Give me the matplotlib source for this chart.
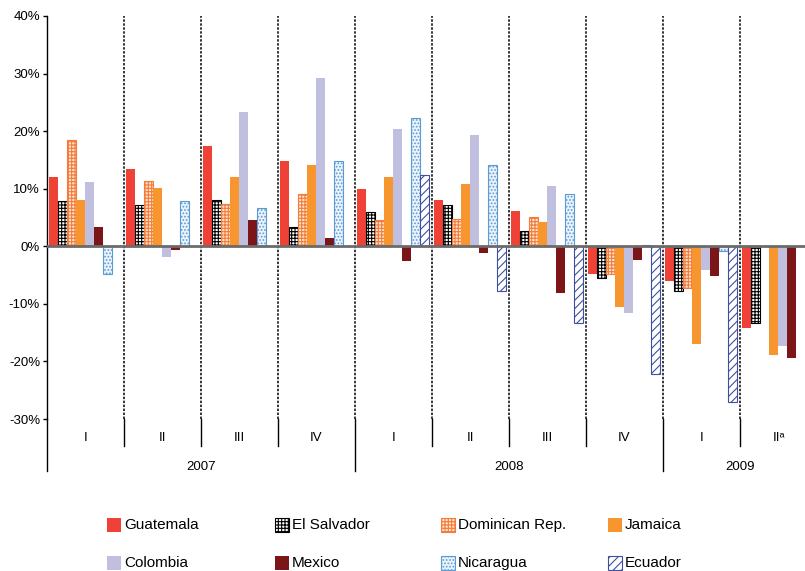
import numpy as np
import matplotlib
matplotlib.use("Agg")
import matplotlib.pyplot as plt
from matplotlib.patches import Rectangle

plt.rcParams['font.family'] = ['Liberation Sans', 'DejaVu Sans']
plt.rcParams['hatch.linewidth'] = 0.8

nan = np.nan
quarters = ['I', 'II', 'III', 'IV', 'I', 'II', 'III', 'IV', 'I', 'II\u1d43']
years = ['2007', '2008', '2009']
year_spans = [(0, 4), (4, 8), (8, 10)]

countries = ['Guatemala', 'El Salvador', 'Dominican Rep.', 'Jamaica',
             'Colombia', 'Mexico', 'Nicaragua', 'Ecuador']

guatemala = [12.0, 13.5, 17.4, 14.9, 9.9, 8.0, 6.2, -4.9, -6.0, -14.2]
el_salvador = [7.9, 7.1, 8.1, 3.3, 6.0, 7.1, 2.6, -5.5, -7.7, -13.3]
dominican = [18.5, 11.3, 7.4, 9.1, 4.6, 4.7, 5.0, -4.8, -7.3, nan]
jamaica = [8.0, 10.1, 12.0, 14.1, 12.0, 10.9, 4.3, -10.6, -17.0, -18.9]
colombia = [11.1, -1.9, 23.4, 29.3, 20.3, 19.3, 10.5, -11.6, -4.2, -17.4]
mexico = [3.3, -0.7, 4.5, 1.4, -2.6, -1.2, -8.2, -2.3, -5.1, -19.4]
nicaragua = [-4.9, 7.8, 6.6, 14.9, 22.2, 14.1, 9.0, 0.3, -0.8, nan]
ecuador = [nan, nan, nan, nan, 12.4, -7.7, -13.3, -22.2, -27.1, nan]

series = [guatemala, el_salvador, dominican, jamaica,
          colombia, mexico, nicaragua, ecuador]

# (facecolor, edgecolor, hatch)
styles = [
    ('#EF4136', '#EF4136', None),
    ('white', 'black', '+++++'),
    ('#FDE3CF', '#F47B3A', '+++++'),
    ('#F7962F', '#F7962F', None),
    ('#C0BFE0', '#C0BFE0', None),
    ('#7B1518', '#7B1518', None),
    ('#EAF2FB', '#5B9BD5', '.....'),
    ('white', '#3E4FA3', '////'),
]

fig = plt.figure(figsize=(8.05, 5.71), dpi=100)
ax = fig.add_axes([47 / 805, 152 / 571, 770 / 805, 403 / 571])

n_groups = len(quarters)
x = np.arange(n_groups)
bw = 0.117
for j, (vals, (fc, ec, h)) in enumerate(zip(series, styles)):
    ax.bar(x + 0.03 + bw * j, vals, width=bw, align='edge',
           facecolor=fc, edgecolor=ec, hatch=h,
           linewidth=0.8 if h else 0, zorder=2)

ax.set_xlim(0, n_groups)
ax.set_ylim(-30, 40)
ax.axhline(0, color='#6b6b6b', linewidth=2, zorder=3)

ax.set_yticks(np.arange(-30, 41, 10))
ax.set_yticklabels([f'{v}%' for v in range(-30, 41, 10)], fontsize=9.5)
ax.tick_params(axis='y', length=3, width=1, pad=2)
ax.set_xticks([])
for s in ['top', 'right', 'bottom']:
    ax.spines[s].set_visible(False)
ax.spines['left'].set_linewidth(1)
ax.spines['left'].set_bounds(-30, 40)

# dashed separators between quarters
for i in range(1, n_groups):
    ax.plot([i, i], [-30, 40], color='black', linestyle=(0, (1.6, 1.0)),
            linewidth=1.1, zorder=1)

# category axis below the plot
tr = ax.get_xaxis_transform()
ax.plot([0, 0], [0, -0.128], color='black', linewidth=1,
        transform=tr, clip_on=False)
for i in range(1, n_groups):
    is_year = i in (4, 8)
    ax.plot([i, i], [0, -0.128 if is_year else -0.066], color='black',
            linewidth=1, transform=tr, clip_on=False)
for i, q in enumerate(quarters):
    ax.text(i + 0.5, -0.047, q, transform=tr, ha='center', va='center',
            fontsize=9.5)
for yr, (a, b) in zip(years, year_spans):
    ax.text((a + b) / 2, -0.12, yr, transform=tr, ha='center', va='center',
            fontsize=9.5)

# legend, two rows of four
col_x = [107, 275, 441, 608]
row_y = [525, 563]
for k, (name, (fc, ec, h)) in enumerate(zip(countries, styles)):
    cx = col_x[k % 4]
    cy = row_y[k // 4]
    rect = Rectangle((cx / 805, (571 - cy - 7) / 571), 14 / 805, 14 / 571,
                     transform=fig.transFigure, facecolor=fc, edgecolor=ec,
                     hatch=h, linewidth=0.8 if h else 0)
    fig.add_artist(rect)
    fig.text((cx + 17) / 805, (571 - cy) / 571, name, ha='left',
             va='center', fontsize=11)

fig.savefig('out.png', dpi=100)
